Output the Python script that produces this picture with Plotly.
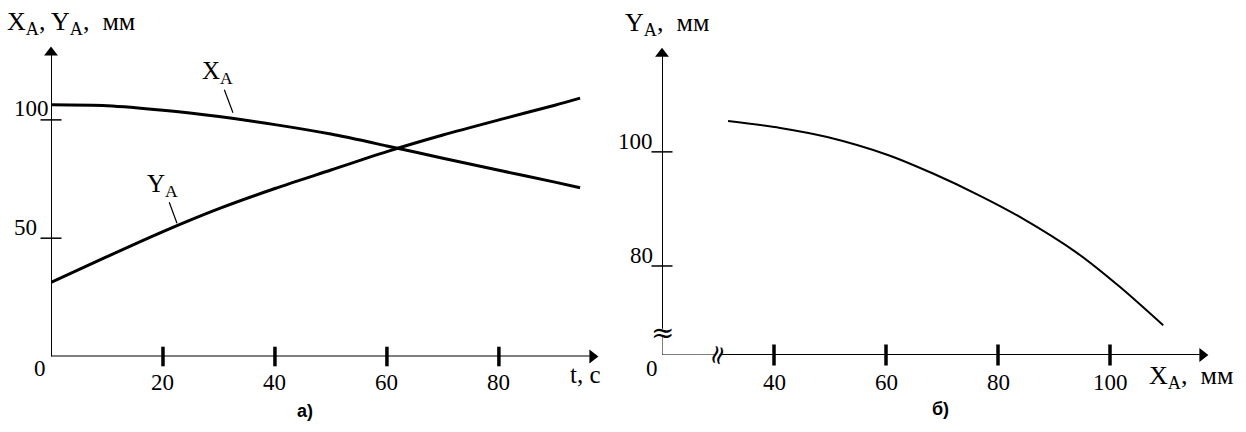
import plotly.graph_objects as go

# ---------------- data ----------------
# chart а): coordinates of point A versus time
t_s = [0, 10, 20, 30, 40, 50, 60, 70, 80, 90, 94.5]
x_a_mm = [106.4, 106.0, 104.1, 101.4, 98.0, 94.0, 89.0, 83.8, 78.7, 73.7, 71.3]
y_a_mm = [31.3, 42.2, 52.8, 62.5, 71.0, 78.8, 86.6, 93.6, 100.0, 106.2, 109.2]

left_x_ticks = [20, 40, 60, 80]
left_y_ticks = [50, 100]

# chart б): trajectory of point A
traj_x_mm = [31.8, 41.1, 49.5, 60.2, 68.4, 76.8, 83.9, 94.1, 101.8, 109.5]
traj_y_mm = [105.4, 104.2, 102.6, 99.5, 96.2, 92.3, 88.6, 82.3, 76.3, 69.6]

right_x_ticks = [40, 60, 80, 100]
right_y_ticks = [80, 100]

# ---------------- layout geometry ----------------
W, H = 1246, 432
L_RANGE_X = [0, 97.7]
L_RANGE_Y = [0, 130.8]
R_RANGE_X = [20, 117.5]
R_RANGE_Y = [64.4, 118.2]
R_XBREAK = 29.8
R_YBREAK = 68.4

SERIF = "Liberation Serif, Times New Roman, serif"
SANS = "Liberation Sans, Arial, sans-serif"
BLACK = "black"


def px_dom(a, b):
    return [a / W, b / W]


def py_dom(top, bottom):
    return [(H - bottom) / H, (H - top) / H]


fig = go.Figure()

# curves
for xs, ys, xa, ya, w in [(t_s, x_a_mm, "x", "y", 3), (t_s, y_a_mm, "x", "y", 3),
                          (traj_x_mm, traj_y_mm, "x2", "y2", 2)]:
    fig.add_trace(go.Scatter(x=xs, y=ys, mode="lines",
                             line=dict(color=BLACK, width=w, shape="spline", smoothing=0.8),
                             xaxis=xa, yaxis=ya, hoverinfo="skip", cliponaxis=False))

# tick marks (crossing the axes)
def tick_marks(xs, ys, xa, ya, symbol, size, width):
    fig.add_trace(go.Scatter(x=xs, y=ys, mode="markers",
                             marker=dict(symbol=symbol, size=size, line=dict(color=BLACK, width=width)),
                             xaxis=xa, yaxis=ya, hoverinfo="skip", cliponaxis=False))


tick_marks(left_x_ticks, [0] * len(left_x_ticks), "x", "y", "line-ns", 14, 3.5)
tick_marks([0] * len(left_y_ticks), left_y_ticks, "x", "y", "line-ew", 15, 1.5)
tick_marks(right_x_ticks, [R_RANGE_Y[0]] * len(right_x_ticks), "x2", "y2", "line-ns", 15, 3.5)
tick_marks([R_RANGE_X[0]] * len(right_y_ticks), right_y_ticks, "x2", "y2", "line-ew", 15, 1.5)

# arrowheads at the axis ends (triangle markers placed just behind the tip)
def head(x, y, xa, ya, symbol):
    fig.add_trace(go.Scatter(x=[x], y=[y], mode="markers",
                             marker=dict(symbol=symbol, size=12, color=BLACK, line=dict(width=0)),
                             xaxis=xa, yaxis=ya, hoverinfo="skip", cliponaxis=False))


head(L_RANGE_X[1] - 1.0, 0, "x", "y", "triangle-right")
head(0, L_RANGE_Y[1] - 2.3, "x", "y", "triangle-up")
head(R_RANGE_X[1] - 1.0, R_RANGE_Y[0], "x2", "y2", "triangle-right")
head(R_RANGE_X[0], R_RANGE_Y[1] - 1.0, "x2", "y2", "triangle-up")

hidden = dict(showline=False, showgrid=False, zeroline=False, showticklabels=False, ticks="", fixedrange=True)
fig.update_layout(
    width=W, height=H, margin=dict(l=0, r=0, t=0, b=0),
    paper_bgcolor="white", plot_bgcolor="white", showlegend=False,
    xaxis=dict(domain=px_dom(51, 598), range=L_RANGE_X, anchor="y", **hidden),
    yaxis=dict(domain=py_dom(47, 356.5), range=L_RANGE_Y, anchor="x", **hidden),
    xaxis2=dict(domain=px_dom(662, 1208), range=R_RANGE_X, anchor="y2", **hidden),
    yaxis2=dict(domain=py_dom(48, 355), range=R_RANGE_Y, anchor="x2", **hidden),
)

ann = []
shapes = []


def seg(xr, yr, x0, y0, x1, y1, width=2):
    shapes.append(dict(type="line", xref=xr, yref=yr, x0=x0, y0=y0, x1=x1, y1=y1,
                       line=dict(color=BLACK, width=width)))


def txt(text, x, y, xr="paper", yr="paper", size=23, family=SERIF, xanchor="center",
        yanchor="middle", xshift=0, yshift=0, angle=0):
    ann.append(dict(text=text, x=x, y=y, xref=xr, yref=yr, showarrow=False,
                    font=dict(family=family, size=size, color=BLACK),
                    xanchor=xanchor, yanchor=yanchor, xshift=xshift, yshift=yshift,
                    textangle=angle))


# ----- left axes -----
seg("x", "y", 0, 0, L_RANGE_X[1] - 1.5, 0)
seg("x", "y", 0, 0, 0, L_RANGE_Y[1] - 3)
for v in left_x_ticks:
    txt(str(v), v, 0, "x", "y", yshift=-26)
for v in left_y_ticks:
    txt(str(v), 12 / W, v, "paper", "y", xanchor="left", yshift=11)
txt("0", 40 / W, (H - 368) / H)
txt("X<sub>A</sub>, Y<sub>A</sub>,  мм", 5 / W, (H - 23) / H, xanchor="left", size=26)
txt("t, c", 585 / W, (H - 374) / H, size=25)

# curve labels with leader lines
ann.append(dict(text="X<sub>A</sub>", xref="x", yref="y", x=32.5, y=103.0, ax=-15, ay=-40,
                showarrow=True, arrowhead=0, arrowwidth=1.2, arrowcolor=BLACK,
                font=dict(family=SERIF, size=25, color=BLACK)))
ann.append(dict(text="Y<sub>A</sub>", xref="x", yref="y", x=22.5, y=56.3, ax=-14, ay=-38,
                showarrow=True, arrowhead=0, arrowwidth=1.2, arrowcolor=BLACK,
                font=dict(family=SERIF, size=25, color=BLACK)))

# ----- right axes -----
seg("x2", "y2", R_RANGE_X[0], R_RANGE_Y[0], R_RANGE_X[0], R_YBREAK - 0.5, 1)
seg("x2", "y2", R_RANGE_X[0], R_YBREAK + 0.6, R_RANGE_X[0], R_RANGE_Y[1] - 1.5)
seg("x2", "y2", R_RANGE_X[0], R_RANGE_Y[0], R_XBREAK - 0.5, R_RANGE_Y[0], 1)
seg("x2", "y2", R_XBREAK + 0.5, R_RANGE_Y[0], R_RANGE_X[1] - 1.5, R_RANGE_Y[0])
txt("≈", R_RANGE_X[0], R_YBREAK, "x2", "y2", size=28, family="DejaVu Serif")
txt("≈", R_XBREAK, R_RANGE_Y[0], "x2", "y2", size=26, family="DejaVu Serif", angle=-75)

for v in right_x_ticks:
    txt(str(v), v, R_RANGE_Y[0], "x2", "y2", yshift=-27)
for v in right_y_ticks:
    txt(str(v), R_RANGE_X[0], v, "x2", "y2", xanchor="right", xshift=-7, yshift=10)
txt("0", 652 / W, (H - 368) / H)
txt("Y<sub>A</sub>,  мм", 623 / W, (H - 24) / H, xanchor="left", size=26)
txt("X<sub>A</sub>,  мм", 1147 / W, (H - 377) / H, xanchor="left", size=26)

# panel captions
txt("<b>а)</b>", 305 / W, (H - 411) / H, size=18, family=SANS)
txt("<b>б)</b>", 940 / W, (H - 409) / H, size=18, family=SANS)

fig.update_layout(annotations=ann, shapes=shapes)
fig.write_html("out.html")
